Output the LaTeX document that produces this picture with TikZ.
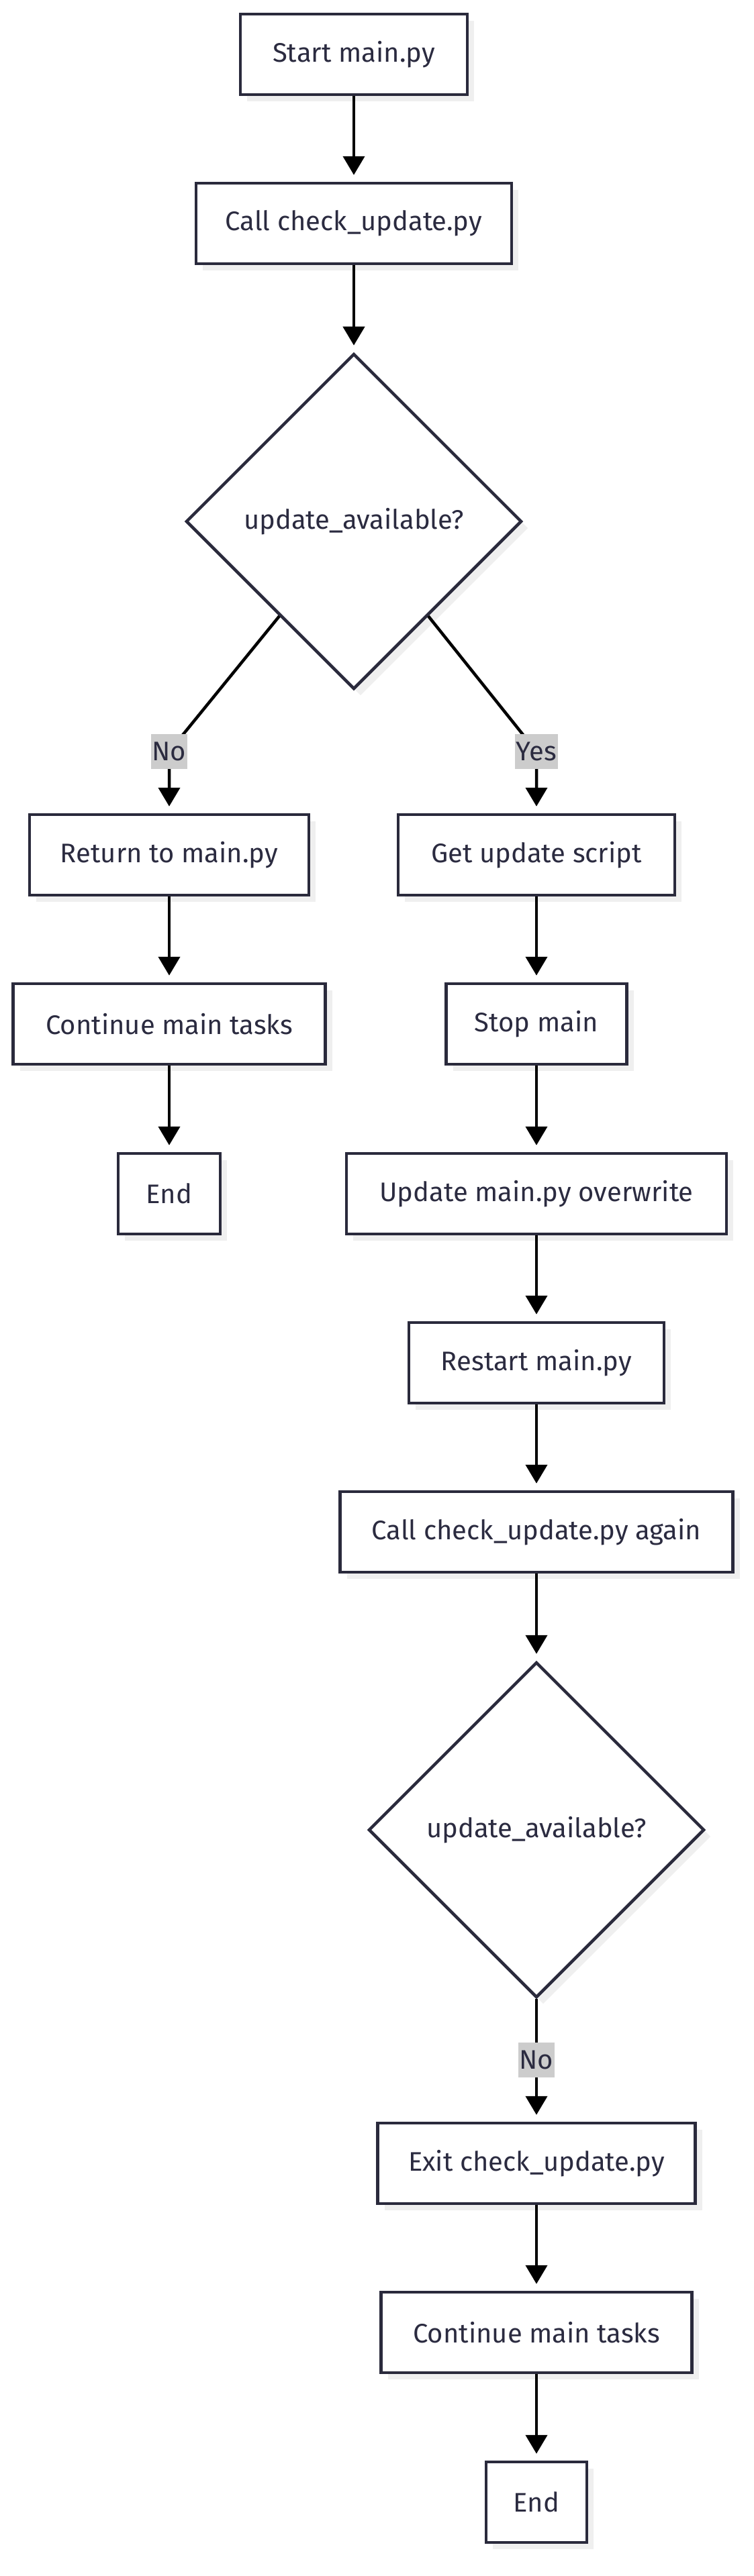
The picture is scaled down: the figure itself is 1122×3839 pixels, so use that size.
\documentclass[tikz,border=0pt]{standalone}
\usepackage{fontspec}
\setmainfont{Fira Sans}
\usetikzlibrary{shapes.geometric,shadows,arrows.meta,calc}
\definecolor{bordc}{HTML}{2A2A3C}
\definecolor{txtc}{HTML}{2B2B40}
\definecolor{lblc}{HTML}{CCCCCC}
\definecolor{shadc}{HTML}{EFEFEF}
\tikzset{
  boxshadow/.style={drop shadow={shadow xshift=10pt,shadow yshift=-10pt,fill=shadc,opacity=1}},
  stepbox/.style={draw=bordc,line width=4.5pt,fill=white,boxshadow,minimum height=120pt,
    inner xsep=0pt,text=txtc,font=\fontsize{40}{44}\selectfont},
  decision/.style={diamond,aspect=1,draw=bordc,line width=4.5pt,fill=white,boxshadow,
    minimum width=500pt,minimum height=500pt,inner sep=0pt,text=txtc,font=\fontsize{40}{44}\selectfont},
  edgelbl/.style={fill=lblc,text=txtc,inner xsep=2pt,inner ysep=0pt,minimum height=52pt,
    font=\fontsize{40}{44}\selectfont},
  conn/.style={line width=4.5pt,black},
  arr/.style={conn,-{Triangle[width=32pt,length=28pt]},shorten >=10pt}
}
\begin{document}
\begin{tikzpicture}[x=1pt,y=-1pt]
\useasboundingbox (0,0) rectangle (1122,3839);
\node[stepbox,minimum width=338pt] (start) at (527,81) {Start main.py};
\node[stepbox,minimum width=470pt] (call) at (527,333) {Call check\_update.py};
\node[decision] (d1) at (527,777) {update\_available?};
\node[stepbox,minimum width=416pt] (ret) at (252,1274) {Return to main.py};
\node[stepbox,minimum width=465pt] (contL) at (252,1526) {Continue main tasks};
\node[stepbox,minimum width=152pt] (endL) at (252,1779) {End};
\node[stepbox,minimum width=412pt] (get) at (799,1274) {Get update script};
\node[stepbox,minimum width=269pt] (stop) at (799,1526) {Stop main};
\node[stepbox,minimum width=566pt] (upd) at (799,1779) {Update main.py overwrite};
\node[stepbox,minimum width=380pt] (restart) at (799,2031) {Restart main.py};
\node[stepbox,minimum width=585pt] (again) at (799,2283) {Call check\_update.py again};
\node[decision] (d2) at (799,2727) {update\_available?};
\node[stepbox,minimum width=473pt] (exit) at (799,3224) {Exit check\_update.py};
\node[stepbox,minimum width=463pt] (contR) at (799,3476) {Continue main tasks};
\node[stepbox,minimum width=150pt] (endR) at (799,3729) {End};

\coordinate (no1pos) at (252,1120);
\coordinate (yes1pos) at (799,1120);
\coordinate (no2pos) at (799,3070);

\draw[arr] (start) -- (call);
\draw[arr] (call) -- (d1);
\draw[arr] ($(d1.south)!0.44!(d1.west)$) -- (no1pos) -- (ret);
\draw[arr] ($(d1.south)!0.44!(d1.east)$) -- (yes1pos) -- (get);
\draw[arr] (ret) -- (contL);
\draw[arr] (contL) -- (endL);
\draw[arr] (get) -- (stop);
\draw[arr] (stop) -- (upd);
\draw[arr] (upd) -- (restart);
\draw[arr] (restart) -- (again);
\draw[arr] (again) -- (d2);
\draw[arr] (d2) -- (no2pos) -- (exit);
\draw[arr] (exit) -- (contR);
\draw[arr] (contR) -- (endR);

\node[edgelbl] (no1) at (no1pos) {No};
\node[edgelbl] (yes1) at (yes1pos) {Yes};
\node[edgelbl] (no2) at (no2pos) {No};
\end{tikzpicture}
\end{document}
